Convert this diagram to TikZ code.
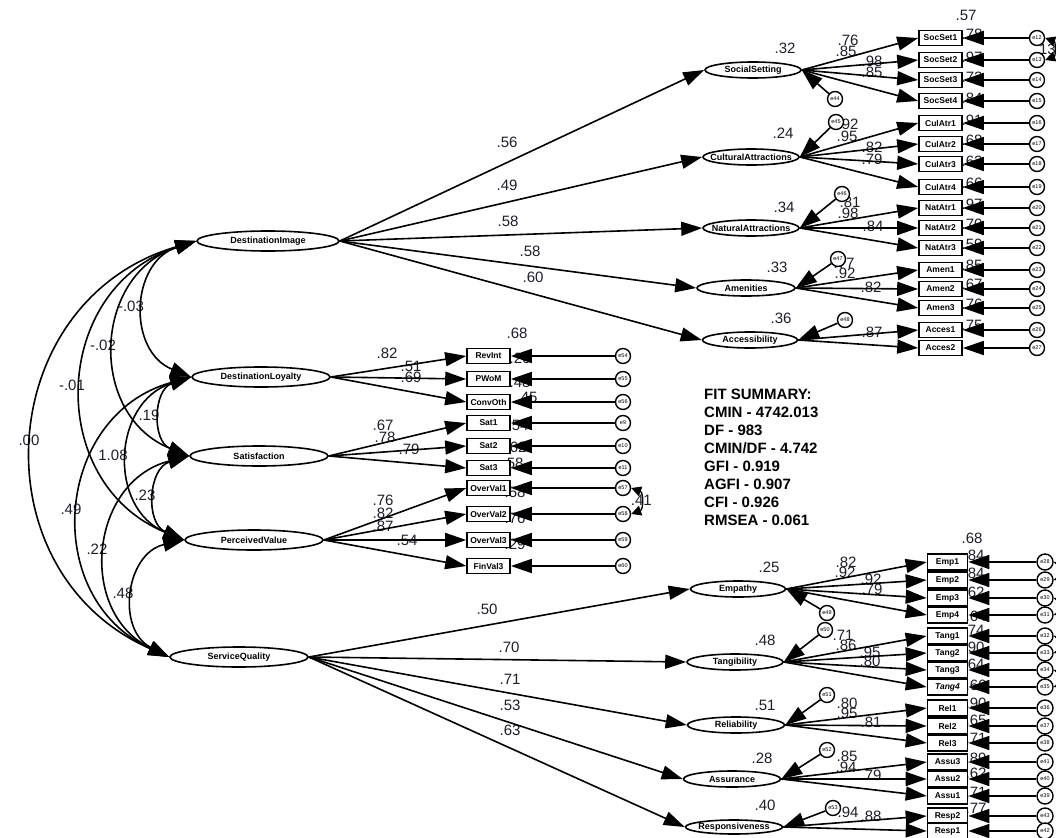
\documentclass[tikz,border=0pt]{standalone}
\usepackage{fontspec}
\setmainfont{Liberation Sans}
\usetikzlibrary{shapes.geometric,arrows.meta}
\definecolor{numc}{RGB}{30,30,45}
\newcommand\latf{\fontsize{9}{9}\selectfont\bfseries}
\newcommand\boxf{\fontsize{8.5}{8.5}\selectfont\bfseries}
\newcommand\errf{\fontsize{5.5}{5.5}\selectfont}
\newcommand\numf{\fontsize{15}{15}\selectfont}
\newcommand\fitf{\fontsize{15}{18}\selectfont\bfseries}
\begin{document}
\begin{tikzpicture}[x=1pt,y=1pt,>={Triangle[length=21pt,width=14pt]},
  lv/.style={ellipse,draw,line width=1.6pt,fill=white,minimum height=20pt,minimum width=138pt,inner sep=0pt,font=\latf},
  sv/.style={ellipse,draw,line width=1.6pt,fill=white,minimum height=16pt,minimum width=96pt,inner sep=0pt},
  ob/.style={rectangle,draw,line width=1.6pt,fill=white,minimum width=43pt,minimum height=15pt,inner sep=0pt,font=\boxf},
  obb/.style={ob,minimum width=40pt,minimum height=16pt},
  er/.style={circle,draw,line width=1.4pt,fill=white,minimum size=15pt,inner sep=0pt,font=\errf},
  num/.style={font=\numf,text=numc,inner sep=0pt},
  pth/.style={line width=1.6pt,->},
  cov/.style={line width=1.6pt,<->},
  scov/.style={line width=1.3pt,{Triangle[length=10pt,width=10pt]}-{Triangle[length=10pt,width=10pt]}}]
\useasboundingbox (0,0) rectangle (1056,-837);
\fill[white] (0,0) rectangle (1056,-837);

% ---------- numbers (drawn first, arrows overlay them) ----------
\foreach \x/\y/\t in {966/15/.57,972/34/.78,972/57/.97,972/77/.72,972/98/.84,972/120/.91,972/140/.68,972/161/.62,972/183/.66,972/204/.97,972/224/.70,972/244/.59,972/265/.85,972/284/.67,972/304/.76,972/325/.75,
 848/40/.76,846/51/.85,872/61/.98,872/72/.85,848/124/.92,847/136/.95,872/147/.82,872/159/.79,850/202/.81,848/213/.98,873/226/.84,844/263/.77,845/273/.92,871/287/.82,872/332/.87,
 785/48/.32,783/133/.24,784/207/.34,777/267/.33,781/318/.36,
 507/142/.56,507/185/.49,508/221/.58,530/251/.58,533/277/.60,
 517/333/.68,387/353/.82,411/366/.51,411/377/.69,383/425/.67,385/437/.78,409/449/.79,383/500/.76,383/513/.82,383/526/.87,407/540/.54,
 520/358/.26,520/382/.48,527/397/.45,518/425/.54,516/447/.62,513/463/.58,515/492/.58,515/518/.76,515/544/.29,
 131/306/-.03,103/345/-.02,72/385/-.01,29/440/.00,149/415/.19,113/455/1.08,145/495/.23,71/509/.49,97/549/.22,123/593/.48,
 487/609/.50,509/647/.70,510/679/.71,510/705/.53,510/730/.63,
 769/567/.25,765/640/.48,765/705/.51,762/758/.28,765/805/.40,972/538/.68,
 846/562/.82,845/572/.92,871/579/.92,872/589/.79,843/635/.71,846/645/.86,870/652/.95,870/661/.80,847/703/.80,847/713/.95,871/722/.81,847/756/.85,846/767/.94,871/775/.79,848/812/.94,871/816/.88,
 974/555/.84,974/573/.84,974/592/.62,976/616/.64,974/630/.74,974/647/.90,974/664/.64,976/685/.66,976/703/.90,976/720/.65,976/738/.71,976/758/.89,976/773/.62,976/792/.71,976/808/.77}
 {\node[num] (n\x-\y) at (\x,-\y) {\t};}
\node[num,anchor=east] (c1213) at (1056,-49) {.13};
\node[num,anchor=east] (c5758) at (652,-500) {.41};

% ---------- fit summary ----------
\node[anchor=north west,align=left,font=\fitf,inner sep=0pt] (fit) at (704,-389)
 {FIT SUMMARY:\\CMIN - 4742.013\\DF - 983\\CMIN/DF - 4.742\\GFI - 0.919\\AGFI - 0.907\\CFI - 0.926\\RMSEA - 0.061};

% ---------- left latent variables ----------
\node[lv,minimum width=142pt] (DI) at (268,-241) {DestinationImage};
\node[lv] (DL) at (261,-377) {DestinationLoyalty};
\node[lv] (SAT) at (259,-456) {Satisfaction};
\node[lv] (PV) at (254,-540) {PerceivedValue};
\node[lv] (SQ) at (239,-657) {ServiceQuality};

% ---------- second-order factors ----------
\node[sv,label={[font=\latf]center:SocialSetting}] (SS) at (753,-70) {};
\node[sv,label={[font=\latf]center:CulturalAttractions}] (CA) at (751,-157) {};
\node[sv,label={[font=\latf]center:NaturalAttractions}] (NA) at (751,-228) {};
\node[sv,minimum width=98pt,label={[font=\latf]center:Amenities}] (AM) at (746,-288) {};
\node[sv,minimum width=95pt,label={[font=\latf]center:Accessibility}] (AC) at (750,-340) {};
\node[sv,minimum width=95pt,label={[font=\latf]center:Empathy}] (EM) at (738,-589) {};
\node[sv,label={[font=\latf]center:Tangibility}] (TA) at (735,-662) {};
\node[sv,minimum width=97pt,label={[font=\latf]center:Reliability}] (RE) at (736,-725) {};
\node[sv,minimum width=97pt,label={[font=\latf]center:Assurance}] (AS) at (732,-779) {};
\node[sv,minimum width=97pt,minimum height=14pt,label={[font=\latf]center:Responsiveness}] (RS) at (734,-827) {};

% ---------- top-right indicators and errors ----------
\foreach \n/\y/\e in {SocSet1/38/e12,SocSet2/60/e13,SocSet3/80/e14,SocSet4/101/e15,CulAtr1/123/e16,CulAtr2/144/e17,CulAtr3/164/e18,CulAtr4/187/e19,NatAtr1/208/e20,NatAtr2/228/e21,NatAtr3/248/e22,Amen1/270/e23,Amen2/289/e24,Amen3/308/e25,Acces1/330/e26,Acces2/348/e27}
 {\node[ob] (\n) at (940.5,-\y) {\n};
  \node[er] (\e) at (1037,-\y) {\e};
  \draw[pth] (\e) -- (\n.east);}

% ---------- middle indicators and errors ----------
\foreach \n/\y/\e in {RevInt/356/e54,PWoM/379/e55,ConvOth/402/e56,Sat1/423/e9,Sat2/446/e10,Sat3/468/e11,OverVal1/488/e57,OverVal2/514/e58,OverVal3/540/e59,FinVal3/566/e60}
 {\node[ob] (\n) at (488.5,-\y) {\n};
  \node[er] (\e) at (623,-\y) {\e};
  \draw[pth] (\e) -- (\n.east);}

% ---------- bottom-right indicators and errors ----------
\foreach \n/\t/\y/\e in {Emp1/Emp1/562/e28,Emp2/Emp2/580/e29,Emp3/Emp3/598/e30,Emp4/Emp4/615/e31,Tang1/Tang1/636/e32,Tang2/Tang2/653/e33,Tang3/Tang3/670/e34,Tang4/{\itshape Tang4}/687/e35,Rel1/Rel1/708/e36,Rel2/Rel2/726/e37,Rel3/Rel3/743/e38,Assu3/Assu3/762/e41,Assu2/Assu2/779/e40,Assu1/Assu1/796/e39,Resp2/Resp2/816/e43,Resp1/Resp1/831/e42}
 {\node[obb] (\n) at (947.5,-\y) {\t};
  \node[er,minimum size=16pt] (\e) at (1045,-\y) {\e};
  \draw[pth] (\e) -- (\n.east);}

% ---------- structural paths ----------
\foreach \t in {SS,CA,NA,AM,AC} {\draw[pth] (DI.east) -- (\t.west);}
\foreach \t in {EM,TA,RE,AS,RS} {\draw[pth] (SQ.east) -- (\t.west);}

% ---------- loadings ----------
\foreach \f/\n in {SS/SocSet1,SS/SocSet2,SS/SocSet3,SS/SocSet4,CA/CulAtr1,CA/CulAtr2,CA/CulAtr3,CA/CulAtr4,NA/NatAtr1,NA/NatAtr2,NA/NatAtr3,AM/Amen1,AM/Amen2,AM/Amen3,AC/Acces1,AC/Acces2,
 DL/RevInt,DL/PWoM,DL/ConvOth,SAT/Sat1,SAT/Sat2,SAT/Sat3,PV/OverVal1,PV/OverVal2,PV/OverVal3,PV/FinVal3,
 EM/Emp1,EM/Emp2,EM/Emp3,EM/Emp4,TA/Tang1,TA/Tang2,TA/Tang3,TA/Tang4,RE/Rel1,RE/Rel2,RE/Rel3,AS/Assu3,AS/Assu2,AS/Assu1,RS/Resp2,RS/Resp1}
 {\draw[pth] (\f.east) -- (\n.west);}

% ---------- disturbances of second-order factors ----------
\foreach \e/\x/\y/\f in {e44/835/99/SS,e45/836/122/CA,e46/842/194/NA,e47/838/259/AM,e48/845/320/AC,e49/827/613/EM,e50/825/630/TA,e51/827/695/RE,e52/827/750/AS,e53/833/808/RS}
 {\node[er] (\e) at (\x,-\y) {\e};
  \draw[pth] (\e) -- (\f.east);}

% ---------- covariances among exogenous factors ----------
\draw[cov] (DI.west) to[bend right=70,looseness=1.3] (DL.west);
\draw[cov] (DI.west) to[bend right=70,looseness=1.3] (SAT.west);
\draw[cov] (DI.west) to[bend right=70,looseness=1.3] (PV.west);
\draw[cov] (DI.west) to[bend right=70,looseness=1.3] (SQ.west);
\draw[cov] (DL.west) to[bend right=70,looseness=1.3] (SAT.west);
\draw[cov] (DL.west) to[bend right=70,looseness=1.3] (PV.west);
\draw[cov] (DL.west) to[bend right=70,looseness=1.3] (SQ.west);
\draw[cov] (SAT.west) to[bend right=70,looseness=1.3] (PV.west);
\draw[cov] (SAT.west) to[bend right=70,looseness=1.3] (SQ.west);
\draw[cov] (PV.west) to[bend right=70,looseness=1.3] (SQ.west);

% ---------- error covariances ----------
\draw[scov] (e12.east) to[bend left=70,looseness=1.3] (e13.east);
\draw[scov] (e57.east) to[bend left=70,looseness=1.3] (e58.east);
\draw[scov] (e28.east) to[bend left=70,looseness=1.3] (e29.east);
\draw[scov] (e30.east) to[bend left=70,looseness=1.3] (e31.east);
\draw[scov] (e32.east) to[bend left=70,looseness=1.3] (e33.east);
\draw[scov] (e34.east) to[bend left=70,looseness=1.3] (e35.east);
\end{tikzpicture}
\end{document}
